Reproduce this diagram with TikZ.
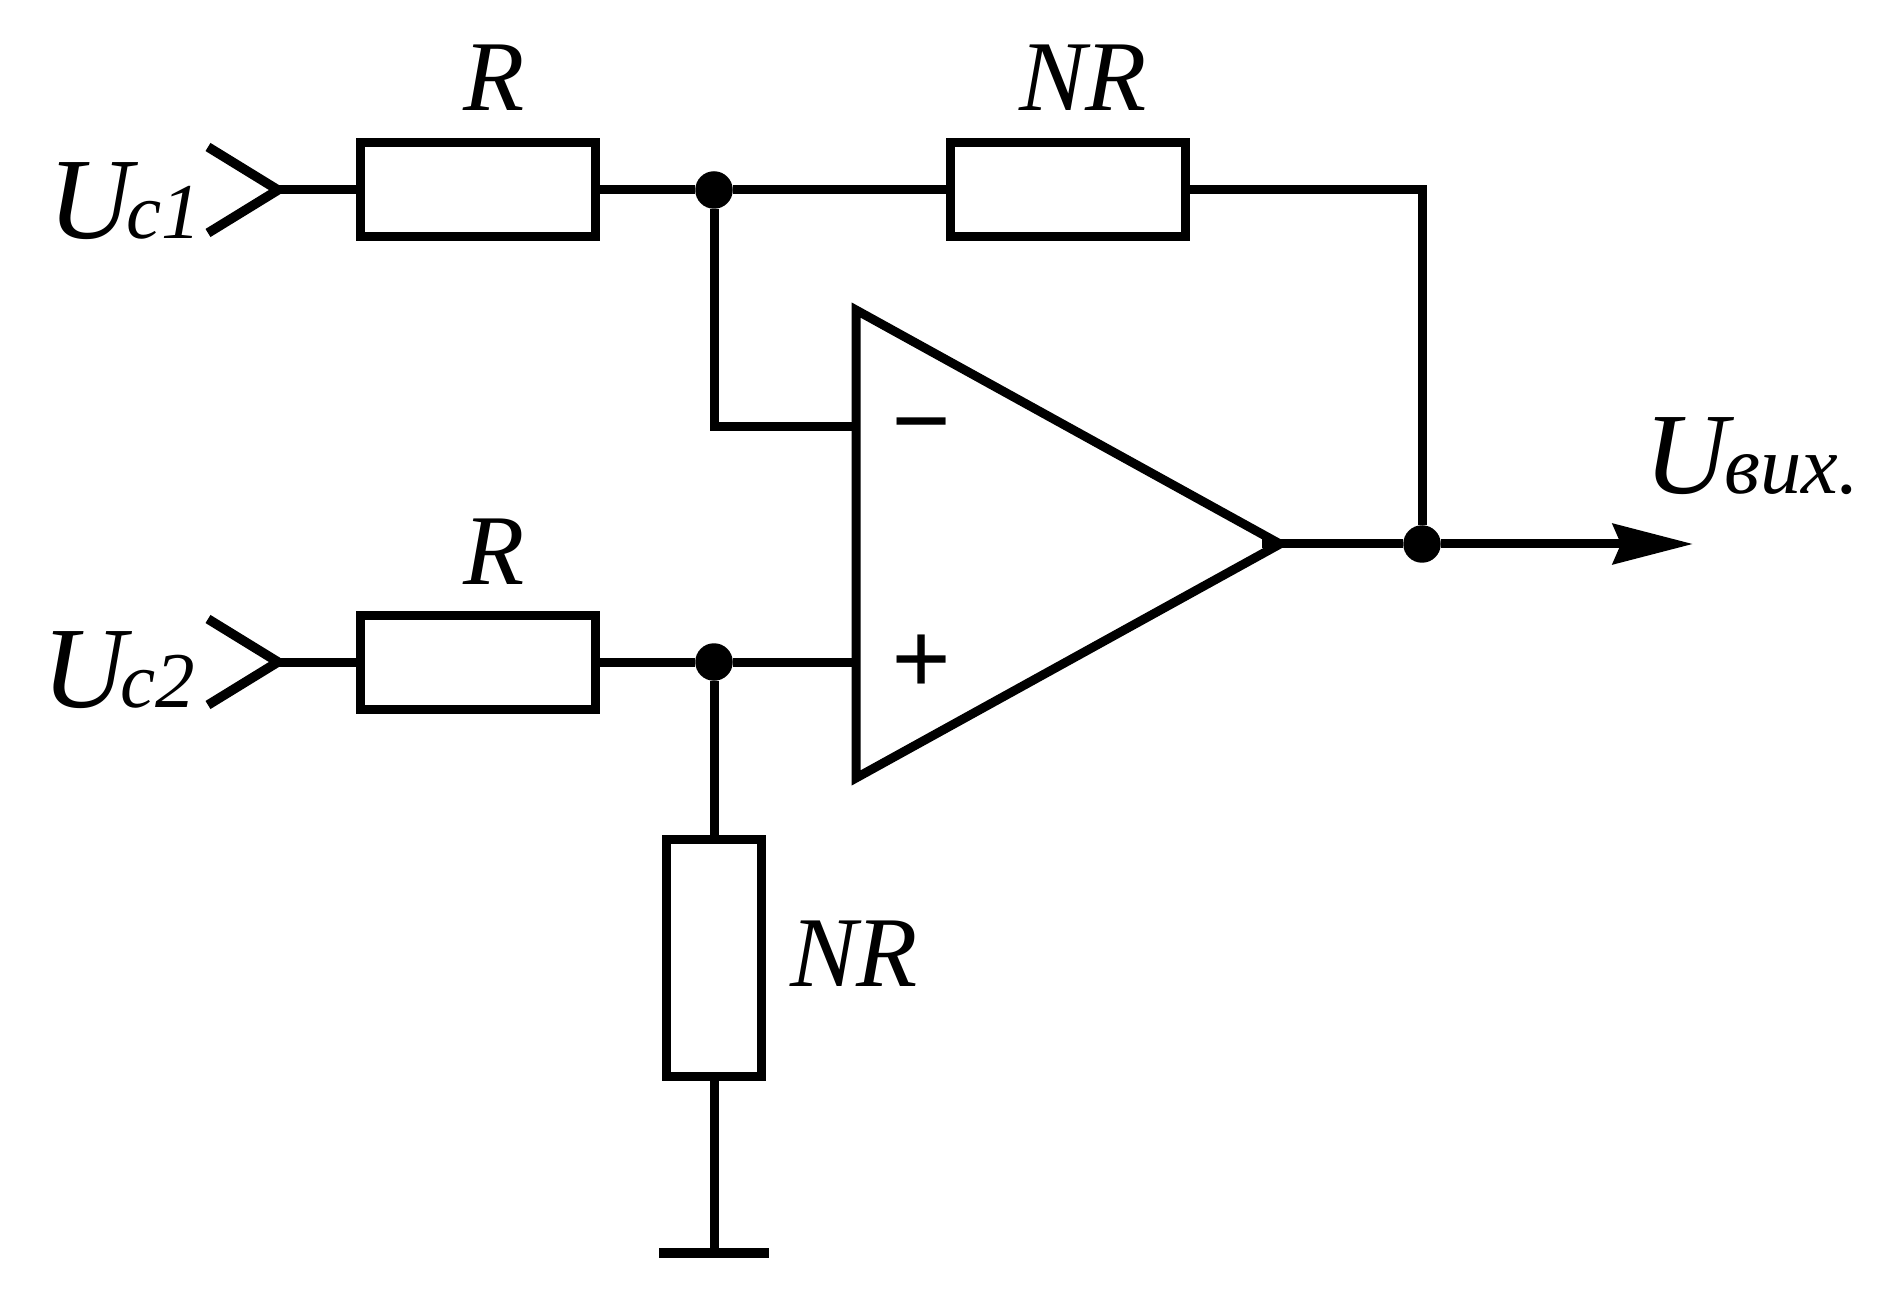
\documentclass[tikz,border=0pt]{standalone}
\usepackage{fontspec}
\setmainfont{Liberation Serif}
\usetikzlibrary{positioning,arrows.meta}

\newcommand{\bigsig}{\fontsize{33}{33}\selectfont\itshape}
\newcommand{\smallsig}{\fontsize{22.5}{24}\selectfont\itshape}
\newcommand{\outsig}{\fontsize{23.5}{24}\selectfont\itshape}
\newcommand{\reslabel}{\fontsize{28.5}{29}\selectfont\itshape}

\begin{document}
\begin{tikzpicture}[line width=.09cm,
	reshoriz/.style={rectangle,draw=black,minimum width=2.35cm,minimum height=.94cm,inner sep=0pt},
	resvert/.style={rectangle,draw=black,minimum width=.95cm,minimum height=2.37cm,inner sep=0pt},
	joint/.style={circle,fill=black,minimum size=.375cm,inner sep=0pt,outer sep=0pt},
	txt/.style={inner sep=0pt,anchor=base},
	sign/.style={inner sep=0pt,font=\fontsize{30}{30}\selectfont\bfseries}]
	\useasboundingbox (0,0) rectangle (18.97,13.07);

	%resistors
	\node [reshoriz] (r1) at (4.78,11.17) {};
	\node [reshoriz] (r2) at (4.78,6.45) {};
	\node [reshoriz] (rfb) at (10.68,11.17) {};
	\node [resvert] (rgnd) at (7.14,3.495) {};

	%joints
	\node [joint] (j1) at (7.14,11.17) {};
	\node [joint] (j2) at (7.14,6.45) {};
	\node [joint] (j3) at (14.22,7.63) {};

	%inputs
	\coordinate (in1) at (2.78,11.17);
	\coordinate (in1a) at (2.08,11.6);
	\coordinate (in1b) at (2.08,10.74);
	\coordinate (in2) at (2.78,6.45);
	\coordinate (in2a) at (2.08,6.88);
	\coordinate (in2b) at (2.08,6.02);
	\draw[line width=.095cm,line join=bevel] (in1a) -- (in1) -- (in1b);
	\draw[line width=.095cm,line join=bevel] (in2a) -- (in2) -- (in2b);

	%amplifier
	\coordinate (optip) at (12.80,7.63);
	\coordinate (optop) at (8.56,9.97);
	\coordinate (opbot) at (8.56,5.29);
	\coordinate (opstub) at (12.62,7.63);
	\coordinate (opminus) at (8.56,8.80);
	\coordinate (opplus) at (8.56,6.45);
	\draw (optip) -- (optop) -- (opbot) -- (optip);
	\node [sign] (minus) at (9.22,8.70) {−};
	\node [sign] (plus) at (9.22,6.42) {+};

	%ground
	\coordinate (gnd) at (7.14,.54);
	\coordinate (gndl) at (6.59,.54);
	\coordinate (gndr) at (7.69,.54);
	\draw[line width=.1cm] (gndl) -- (gndr);

	%output end
	\coordinate (outend) at (16.93,7.63);

	%wires
	\draw (in1) -- (r1);
	\draw (r1) -- (j1);
	\draw (j1) -- (rfb);
	\draw (rfb) -| (j3);
	\draw (j1) |- (opminus);
	\draw (in2) -- (r2);
	\draw (r2) -- (j2);
	\draw (j2) -- (opplus);
	\draw (j2) -- (rgnd);
	\draw (rgnd) -- (gnd);
	\draw (opstub) -- (j3);
	\draw[-{Stealth[length=.8cm,width=.4cm,inset=.08cm]}] (j3) -- (outend);

	%labels
	\node [txt] (lr1) at (4.94,11.965) {\reslabel R};
	\node [txt] (lr2) at (4.94,7.23) {\reslabel R};
	\node [txt] (lrfb) at (10.83,11.96) {\reslabel NR};
	\node [txt] (lrgnd) at (8.54,3.21) {\reslabel NR};
	\node [txt,anchor=base west] (lu1) at (.44,10.68) {\bigsig U\kern-.05em\smallsig c1};
	\node [txt,anchor=base west] (lu2) at (.38,6.00) {\bigsig U\kern-.05em\smallsig c2};
	\node [txt,anchor=base west] (lout) at (16.40,8.13) {\bigsig U\kern-.03em\outsig вих.};
\end{tikzpicture}
\end{document}
